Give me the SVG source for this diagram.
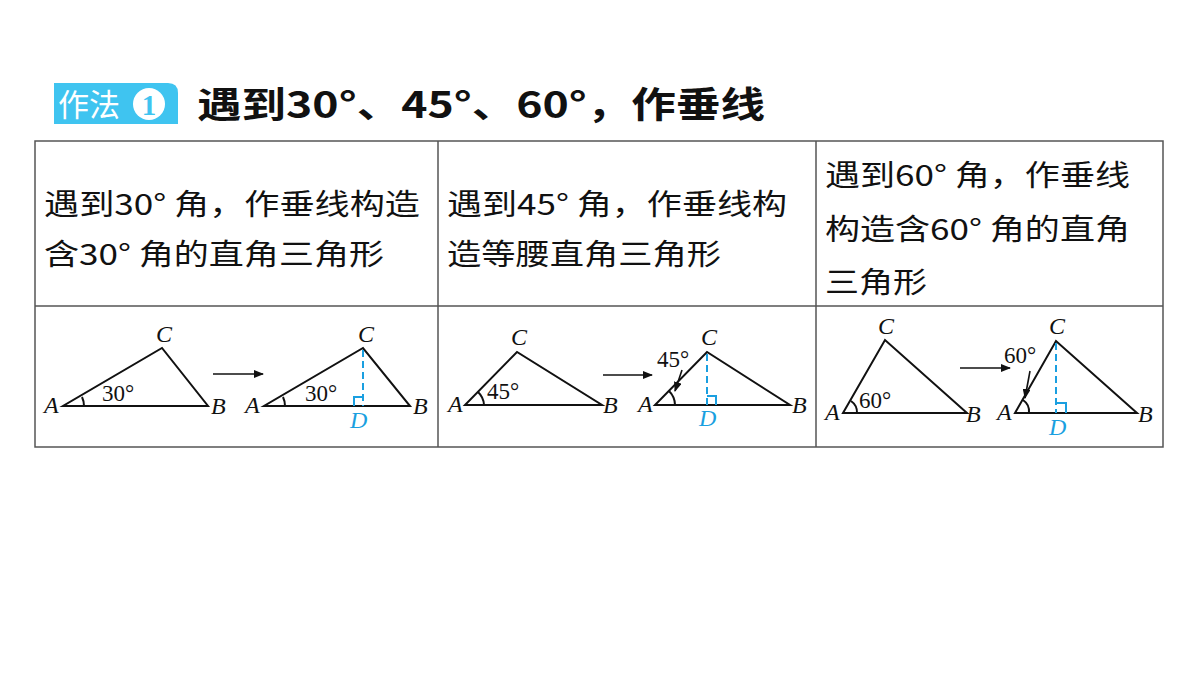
<svg xmlns="http://www.w3.org/2000/svg" width="1200" height="675" viewBox="0 0 1200 675">
<style>
.cn{font-family:"Noto Sans CJK SC","Noto Sans",sans-serif;font-size:29px;fill:#111}
.t{fill:none;stroke:#111;stroke-width:2}
.d{stroke:#1a9fe0;stroke-width:2;stroke-dasharray:7,4;fill:none}
.sq{fill:none;stroke:#1a9fe0;stroke-width:2}
.lb{font-family:"Liberation Serif",serif;font-style:italic;font-size:24px;fill:#111}
.lbd{font-family:"Liberation Serif",serif;font-style:italic;font-size:24px;fill:#1a9fe0}
.ang{font-family:"Liberation Serif",serif;font-size:23px;fill:#111}
.ar{stroke:#111;stroke-width:1.6;fill:none;marker-end:url(#ah)}
</style>
<defs><marker id="ah" markerWidth="10" markerHeight="8" refX="9" refY="4" orient="auto" markerUnits="userSpaceOnUse"><path d="M0,0 L10,4 L0,8 Z" fill="#111"/></marker></defs>
<rect width="1200" height="675" fill="#fff"/>
<g id="title">
<path d="M54,83 H168 Q178,83 178,93 V124 H54 Z" fill="#3fc4f0"/>
<text x="58" y="116" font-family="Noto Sans CJK SC,sans-serif" font-size="31" fill="#fff">作法</text>
<circle cx="149" cy="104" r="16" fill="#fff"/>
<text x="149" y="115" text-anchor="middle" font-family="Liberation Serif,serif" font-weight="bold" font-size="29" fill="#3fc4f0">1</text>
<text x="197" y="118" class="cn" style="font-size:36px;font-weight:bold" textLength="568" lengthAdjust="spacingAndGlyphs">遇到30°、45°、60°，作垂线</text>
</g>
<g id="table" fill="none" stroke="#555" stroke-width="1.5">
<rect x="35" y="141" width="1128" height="306"/>
<line x1="438" y1="141" x2="438" y2="447"/><line x1="816" y1="141" x2="816" y2="447"/>
<line x1="35" y1="306" x2="1163" y2="306"/>
</g>
<g id="texts">
<text class="cn" x="44" y="215" textLength="376" lengthAdjust="spacingAndGlyphs">遇到30° 角，作垂线构造</text>
<text class="cn" x="44" y="265" textLength="340" lengthAdjust="spacingAndGlyphs">含30° 角的直角三角形</text>
<text class="cn" x="447" y="215" textLength="340" lengthAdjust="spacingAndGlyphs">遇到45° 角，作垂线构</text>
<text class="cn" x="447" y="265" textLength="274" lengthAdjust="spacingAndGlyphs">造等腰直角三角形</text>
<text class="cn" x="825" y="186" textLength="305" lengthAdjust="spacingAndGlyphs">遇到60° 角，作垂线</text>
<text class="cn" x="825" y="240" textLength="305" lengthAdjust="spacingAndGlyphs">构造含60° 角的直角</text>
<text class="cn" x="825" y="293" textLength="102" lengthAdjust="spacingAndGlyphs">三角形</text>
</g>
<g id="fig1">
<path class="t" d="M63,406 L208,406 L162,348 Z"/>
<path class="t" d="M84,406 A21,21 0 0 0 82,397" stroke-width="1.5"/>
<text class="ang" x="102" y="401">30°</text>
<text class="lb" x="156" y="342">C</text><text class="lb" x="44" y="413">A</text><text class="lb" x="211" y="414">B</text>
<line class="ar" x1="213" y1="374" x2="263" y2="374"/>
<path class="t" d="M264,406 L410,406 L363,348 Z"/>
<path class="t" d="M285,406 A21,21 0 0 0 283,397" stroke-width="1.5"/>
<text class="ang" x="305" y="401">30°</text>
<line class="d" x1="363" y1="350" x2="363" y2="406"/>
<path class="sq" d="M354,406 V397 H363"/>
<text class="lb" x="358" y="342">C</text><text class="lb" x="245" y="413">A</text><text class="lb" x="413" y="414">B</text>
<text class="lbd" x="350" y="428">D</text>
</g>
<g id="fig2">
<path class="t" d="M465,405 L602,405 L517,352 Z"/>
<path class="t" d="M484,405 A19,19 0 0 0 478,392" stroke-width="1.5"/>
<text class="ang" x="487" y="399">45°</text>
<text class="lb" x="511" y="345">C</text><text class="lb" x="448" y="412">A</text><text class="lb" x="603" y="413">B</text>
<line class="ar" x1="603" y1="375" x2="652" y2="375"/>
<path class="t" d="M655,405 L790,405 L707,352 Z"/>
<path class="t" d="M675,405 A20,20 0 0 0 669,391" stroke-width="1.5"/>
<text class="ang" x="657" y="367">45°</text>
<line class="ar" x1="682" y1="370" x2="675" y2="391"/>
<line class="d" x1="707" y1="354" x2="707" y2="405"/>
<path class="sq" d="M707,396 H716 V405"/>
<text class="lb" x="701" y="345">C</text><text class="lb" x="638" y="412">A</text><text class="lb" x="792" y="413">B</text>
<text class="lbd" x="699" y="426">D</text>
</g>
<g id="fig3">
<path class="t" d="M843,413 L967,413 L885,340 Z"/>
<path class="t" d="M857,413 A14,14 0 0 0 851,401" stroke-width="1.5"/>
<text class="ang" x="859" y="408">60°</text>
<text class="lb" x="878" y="334">C</text><text class="lb" x="825" y="420">A</text><text class="lb" x="966" y="422">B</text>
<line class="ar" x1="960" y1="368" x2="1010" y2="368"/>
<path class="t" d="M1015,413 L1137,413 L1056,341 Z"/>
<path class="t" d="M1029,413 A14,14 0 0 0 1023,400" stroke-width="1.5"/>
<text class="ang" x="1004" y="363">60°</text>
<line class="ar" x1="1030" y1="371" x2="1025" y2="398"/>
<line class="d" x1="1056" y1="343" x2="1056" y2="413"/>
<path class="sq" d="M1056,403 H1066 V413"/>
<text class="lb" x="1049" y="334">C</text><text class="lb" x="997" y="420">A</text><text class="lb" x="1138" y="422">B</text>
<text class="lbd" x="1049" y="435">D</text>
</g>
</svg>
